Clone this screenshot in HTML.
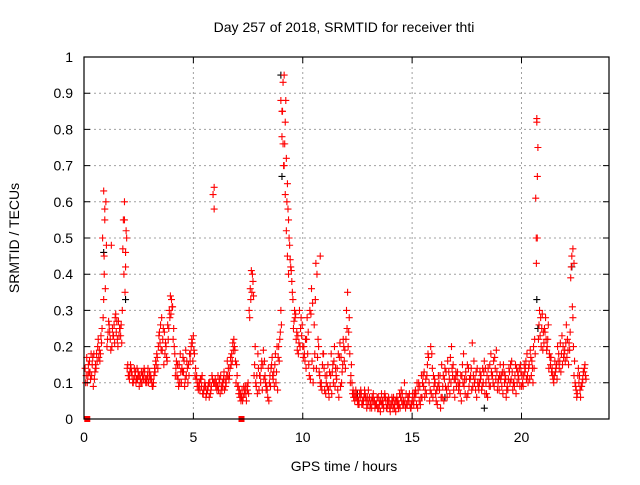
<!DOCTYPE html>
<html><head><meta charset="utf-8"><style>
body{margin:0;background:#fff}
svg text{font-family:"Liberation Sans",sans-serif;font-size:14px;fill:#000}
</style></head><body>
<svg id="chart" width="640" height="480" xmlns="http://www.w3.org/2000/svg">
<text x="344" y="32" text-anchor="middle">Day 257 of 2018, SRMTID for receiver thti</text>
<text transform="translate(19,238) rotate(-90)" text-anchor="middle">SRMTID / TECUs</text>
<text x="344" y="471" text-anchor="middle">GPS time / hours</text>
<g id="grid"></g>
<g id="marks"></g>
<rect x="84" y="57" width="525" height="362" fill="none" stroke="#000" stroke-width="1.2"/>
<g id="ticks"></g>
</svg>
<script>
const xTicks=[0,5,10,15,20];
const yTicks=[0,0.1,0.2,0.3,0.4,0.5,0.6,0.7,0.8,0.9,1];
const yTickLabels=["0","0.1","0.2","0.3","0.4","0.5","0.6","0.7","0.8","0.9","1"];
const seriesA=[0.12,0.15,0.11,0.17,0.13,0.16,0.19,0.21,0.33,0.60,
0.24,0.22,0.25,0.21,0.27,0.23,0.26,0.55,0.42,0.15,
0.13,0.12,0.14,0.11,0.12,0.10,0.13,0.11,0.12,0.13,
0.10,0.12,0.15,0.20,0.26,0.22,0.18,0.16,0.30,0.33,
0.25,0.14,0.11,0.18,0.13,0.09,0.16,0.12,0.20,0.23,
0.14,0.10,0.08,0.12,0.09,0.07,0.10,0.08,0.62,0.11,
0.09,0.11,0.08,0.13,0.10,0.14,0.17,0.21,0.19,0.12,
0.08,0.06,0.09,0.07,0.10,0.36,0.40,0.15,0.12,0.08,
0.14,0.19,0.10,0.06,0.12,0.17,0.09,0.13,0.20,0.30,
0.93,0.82,0.65,0.48,0.38,0.27,0.22,0.18,0.25,0.20,
0.16,0.28,0.12,0.36,0.14,0.43,0.22,0.10,0.15,0.08,
0.12,0.06,0.18,0.10,0.14,0.08,0.21,0.13,0.16,0.30,
0.24,0.12,0.08,0.06,0.05,0.07,0.04,0.06,0.05,0.08,
0.04,0.05,0.03,0.06,0.04,0.07,0.03,0.05,0.04,0.02,
0.05,0.03,0.06,0.04,0.08,0.05,0.03,0.06,0.04,0.05,
0.07,0.04,0.10,0.06,0.12,0.08,0.15,0.05,0.18,0.09,
0.05,0.12,0.03,0.09,0.14,0.06,0.11,0.20,0.08,0.13,
0.10,0.07,0.15,0.11,0.06,0.09,0.14,0.12,0.08,0.10,
0.13,0.09,0.16,0.07,0.11,0.18,0.10,0.14,0.08,0.12,
0.09,0.13,0.06,0.11,0.15,0.08,0.12,0.10,0.14,0.09,
0.12,0.16,0.10,0.19,0.14,0.22,0.82,0.26,0.20,0.24,
0.28,0.22,0.17,0.14,0.12,0.15,0.18,0.13,0.20,0.16,
0.22,0.19,0.45,0.12,0.08,0.14,0.06,0.11,0.15];
const seriesB=[0.14,0.10,0.16,0.12,0.18,0.14,0.22,0.18,0.50,0.55,
0.20,0.26,0.48,0.23,0.29,0.20,0.25,0.30,0.60,0.50,
0.12,0.14,0.10,0.13,0.11,0.12,0.10,0.14,0.11,0.10,
0.12,0.09,0.13,0.17,0.24,0.28,0.15,0.20,0.22,0.34,
0.31,0.18,0.12,0.15,0.10,0.13,0.19,0.10,0.16,0.21,
0.18,0.12,0.09,0.11,0.07,0.09,0.08,0.10,0.12,0.58,
0.10,0.08,0.12,0.09,0.11,0.16,0.12,0.18,0.22,0.10,
0.09,0.07,0.05,0.08,0.09,0.30,0.41,0.34,0.10,0.18,
0.12,0.08,0.16,0.09,0.05,0.14,0.11,0.18,0.08,0.22,
0.78,0.95,0.72,0.55,0.42,0.33,0.28,0.19,0.30,0.23,
0.20,0.14,0.24,0.11,0.32,0.18,0.40,0.13,0.10,0.18,
0.07,0.15,0.09,0.13,0.20,0.11,0.06,0.17,0.22,0.14,
0.35,0.18,0.10,0.07,0.06,0.05,0.08,0.04,0.07,0.06,
0.06,0.03,0.05,0.04,0.06,0.02,0.05,0.07,0.03,0.05,
0.04,0.06,0.02,0.05,0.03,0.07,0.10,0.04,0.06,0.03,
0.05,0.08,0.03,0.09,0.06,0.13,0.07,0.17,0.20,0.06,
0.10,0.04,0.08,0.15,0.05,0.13,0.09,0.17,0.12,0.06,
0.12,0.09,0.05,0.18,0.13,0.07,0.11,0.21,0.10,0.06,
0.08,0.12,0.10,0.14,0.06,0.15,0.12,0.09,0.19,0.11,
0.11,0.07,0.12,0.09,0.13,0.16,0.10,0.07,0.12,0.15,
0.10,0.13,0.18,0.15,0.12,0.20,0.61,0.75,0.23,0.29,
0.25,0.19,0.14,0.17,0.11,0.13,0.20,0.16,0.23,0.18,
0.26,0.15,0.39,0.28,0.10,0.07,0.12,0.09,0.13,0.11];
const seriesC=[0.17,0.13,0.18,0.09,0.15,0.20,0.16,0.25,0.40,0.48,
0.27,0.19,0.23,0.28,0.22,0.25,0.21,0.40,0.52,0.12,
0.15,0.10,0.12,0.14,0.09,0.13,0.11,0.10,0.14,0.11,
0.09,0.14,0.18,0.23,0.19,0.25,0.21,0.26,0.28,0.31,
0.20,0.16,0.09,0.13,0.17,0.11,0.14,0.18,0.22,0.19,
0.11,0.08,0.11,0.07,0.10,0.08,0.06,0.09,0.10,0.09,
0.12,0.07,0.10,0.08,0.12,0.11,0.15,0.19,0.16,0.09,
0.06,0.08,0.07,0.05,0.07,0.33,0.38,0.20,0.07,0.12,
0.16,0.11,0.08,0.14,0.09,0.12,0.15,0.20,0.16,0.26,
0.70,0.88,0.58,0.44,0.35,0.30,0.24,0.21,0.28,0.17,
0.22,0.18,0.30,0.16,0.26,0.14,0.20,0.09,0.18,0.12,
0.09,0.13,0.07,0.16,0.12,0.18,0.09,0.15,0.19,0.25,
0.28,0.15,0.06,0.08,0.04,0.06,0.05,0.08,0.03,0.05,
0.05,0.07,0.04,0.03,0.05,0.04,0.06,0.03,0.06,0.04,
0.03,0.05,0.04,0.07,0.05,0.04,0.07,0.05,0.03,0.07,
0.06,0.10,0.05,0.12,0.09,0.11,0.18,0.08,0.14,0.11,
0.08,0.10,0.06,0.12,0.09,0.16,0.07,0.14,0.11,0.09,
0.08,0.12,0.10,0.07,0.15,0.11,0.08,0.16,0.13,0.09,
0.11,0.14,0.07,0.12,0.09,0.13,0.16,0.11,0.10,0.15,
0.13,0.10,0.08,0.14,0.11,0.10,0.15,0.13,0.09,0.12,
0.15,0.11,0.14,0.17,0.10,0.18,0.67,0.30,0.25,0.21,
0.22,0.26,0.15,0.12,0.16,0.11,0.14,0.18,0.17,0.21,
0.19,0.24,0.31,0.16,0.06,0.10,0.09,0.13,0.12];
const seriesD=[0.10,0.12,0.13,0.15,0.11,0.18,0.17,0.23,0.28,0.36,
0.22,0.24,0.20,0.26,0.24,0.27,0.23,0.47,0.35,0.14,
0.11,0.13,0.11,0.10,0.13,0.11,0.12,0.13,0.10,0.12,
0.11,0.10,0.16,0.14,0.21,0.19,0.24,0.17,0.25,0.29,
0.22,0.12,0.15,0.10,0.14,0.16,0.12,0.15,0.18,0.16,
0.12,0.09,0.10,0.09,0.08,0.06,0.09,0.07,0.11,0.10,
0.08,0.10,0.09,0.11,0.09,0.12,0.14,0.16,0.20,0.15,
0.07,0.05,0.06,0.09,0.08,0.28,0.35,0.12,0.09,0.14,
0.10,0.15,0.12,0.08,0.10,0.15,0.13,0.10,0.17,0.24,
0.85,0.76,0.60,0.50,0.41,0.25,0.29,0.23,0.20,0.26,
0.18,0.22,0.15,0.29,0.10,0.33,0.17,0.12,0.08,0.14,
0.10,0.08,0.12,0.15,0.09,0.14,0.17,0.10,0.20,0.22,
0.20,0.10,0.07,0.05,0.07,0.04,0.07,0.05,0.06,0.04,
0.03,0.06,0.05,0.04,0.03,0.05,0.04,0.06,0.05,0.03,
0.06,0.04,0.05,0.03,0.06,0.04,0.05,0.04,0.07,0.04,
0.04,0.07,0.08,0.04,0.10,0.06,0.12,0.10,0.07,0.12,
0.07,0.09,0.12,0.06,0.11,0.08,0.13,0.10,0.15,0.11,
0.13,0.10,0.12,0.09,0.11,0.14,0.12,0.09,0.11,0.14,
0.10,0.08,0.13,0.10,0.14,0.09,0.12,0.17,0.13,0.08,
0.12,0.15,0.11,0.08,0.10,0.13,0.09,0.14,0.11,0.13,
0.09,0.14,0.12,0.11,0.16,0.14,0.50,0.22,0.28,0.19,
0.24,0.20,0.18,0.13,0.10,0.14,0.16,0.21,0.15,0.19,
0.17,0.21,0.42,0.20,0.09,0.12,0.08,0.10,0.14];
const spikeTimes=[0.9,0.95,0.92,1.85,1.9,5.95,9.0,9.05,9.1,9.15,9.2,9.25,9.3,9.35,10.8,20.7,20.72,20.68,22.35,22.4];
const spikeValues=[0.63,0.58,0.45,0.55,0.46,0.64,0.88,0.85,0.76,0.70,0.62,0.52,0.45,0.40,0.45,0.83,0.50,0.43,0.47,0.43];
const blackTimes=[0.9,1.9,9.0,9.05,20.7,20.75,16.5,18.3,12.5,22.3];
const blackValues=[0.46,0.33,0.95,0.67,0.33,0.25,0.06,0.03,0.07,0.42];
const zeroTimes=[0.15,7.2];
const zeroValues=[0,0];

const X=t=>84+t*525/24, Y=v=>419-v*362;
const NS="http://www.w3.org/2000/svg";
const grid=document.getElementById('grid'),marks=document.getElementById('marks'),ticks=document.getElementById('ticks');
function mk(tag,attrs,parent){const e=document.createElementNS(NS,tag);for(const k in attrs)e.setAttribute(k,attrs[k]);parent.appendChild(e);return e;}
xTicks.forEach(t=>{
  if(t>0){const g=mk('line',{x1:X(t),x2:X(t),y1:57,y2:419,stroke:'#a0a0a0','stroke-dasharray':'2,3'},grid);
  
  }
  const tk=mk('path',{d:`M${X(t)},419v-6M${X(t)},57v6`,stroke:'#000'},ticks);
  
  
  const l=mk('text',{x:X(t),y:442,'text-anchor':'middle'},ticks);l.textContent=t;
  
  
});
yTicks.forEach((v,i)=>{
  if(v>0&&v<1){const g=mk('line',{x1:84,x2:609,y1:Y(v),y2:Y(v),stroke:'#a0a0a0','stroke-dasharray':'2,3'},grid);
  
  }
  const tk=mk('path',{d:`M84,${Y(v)}h6M609,${Y(v)}h-6`,stroke:'#000'},ticks);
  
  
  const l=mk('text',{x:73,y:Y(v)+5,'text-anchor':'end'},ticks);l.textContent=yTickLabels[i];
  
  
});
function plus(t,v,col){const x=X(t),y=Y(v);
  const p=mk('path',{d:`M${x-3.5},${y}h7M${x},${y-3.5}v7`,stroke:col,'stroke-width':1.1},marks);
  
  }
blackTimes.forEach((t,i)=>plus(t,blackValues[i],'#000'));
seriesA.forEach((v,i)=>plus(0.1+i*0.1,v,'#ff0000'));
seriesB.forEach((v,i)=>plus(0.05+i*0.1,v,'#ff0000'));
seriesC.forEach((v,i)=>plus(0.125+i*0.1,v,'#ff0000'));
seriesD.forEach((v,i)=>plus(0.075+i*0.1,v,'#ff0000'));
spikeTimes.forEach((t,i)=>plus(t,spikeValues[i],'#ff0000'));
zeroTimes.forEach((t,i)=>{const r=mk('rect',{x:X(t)-3,y:Y(zeroValues[i])-3,width:6,height:6,fill:'#ff0000'},marks);
  
  });
</script>
</body></html>
